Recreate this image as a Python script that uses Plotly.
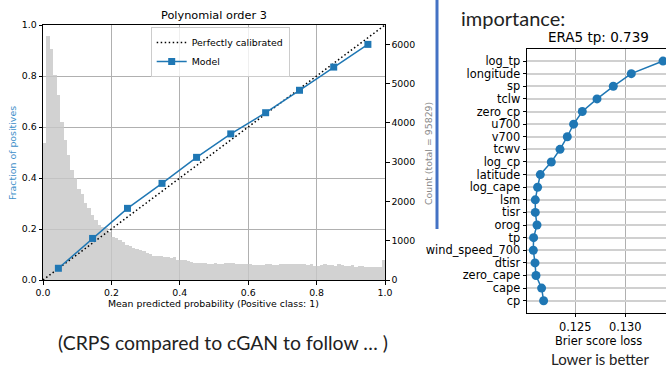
import plotly.graph_objects as go

W, H = 666, 367

# ---------------- data: calibration plot (left) ----------------
prob_pred = [0.045, 0.145, 0.247, 0.348, 0.449, 0.549, 0.651, 0.750, 0.850, 0.950]
prob_true = [0.046, 0.163, 0.281, 0.379, 0.481, 0.573, 0.656, 0.744, 0.835, 0.924]
perfect_x = [0.0, 1.0]
perfect_y = [0.0, 1.0]
bin_width = 0.01
hist_counts = [
    3500, 6200, 5880, 5220, 4710, 4020, 3560, 3180, 2800, 2590,
    2310, 2190, 1970, 1840, 1660, 1530, 1400, 1360, 1320, 1230,
    1100, 1060, 1010, 960, 900, 860, 820, 780, 770, 740,
    700, 670, 620, 600, 610, 580, 590, 550, 575, 510,
    510, 505, 485, 470, 445, 440, 425, 430, 410, 420,
    440, 415, 415, 425, 440, 430, 420, 415, 420, 400,
    410, 370, 385, 390, 390, 395, 420, 390, 385, 395,
    400, 405, 410, 405, 395, 400, 405, 370, 395, 365,
    360, 370, 395, 385, 370, 360, 400, 380, 350, 345,
    375, 340, 360, 350, 320, 335, 325, 320, 320, 500,
]
bin_centers = [bin_width * (i + 0.5) for i in range(len(hist_counts))]
frac_ticks = [0.0, 0.2, 0.4, 0.6, 0.8, 1.0]
count_ticks = [0, 1000, 2000, 3000, 4000, 5000, 6000]

# ---------------- data: feature importance (right) ----------------
features = ["log_tp", "longitude", "sp", "tclw", "zero_cp", "u700", "v700", "tcwv",
            "log_cp", "latitude", "log_cape", "lsm", "tisr", "orog", "tp",
            "wind_speed_700", "dtisr", "zero_cape", "cape", "cp"]
brier = [0.13377, 0.1306, 0.1288, 0.12717, 0.1257, 0.12483, 0.1242, 0.12347,
         0.1226, 0.1215, 0.12123, 0.1210, 0.1210, 0.12117, 0.12083,
         0.1208, 0.12097, 0.12107, 0.12163, 0.12183]
brier_ticks = [0.125, 0.130]


def px_x(p):
    return p / W


def px_y(p):
    return 1 - p / H


MPL = "DejaVu Sans"
CAL = "Lato"
fsL = 9.4
fsR = 11.4

fig = go.Figure()
fig.add_trace(go.Bar(
    x=bin_centers, y=hist_counts, width=bin_width,
    marker=dict(color="rgb(200,200,200)", line=dict(width=0)), opacity=0.8,
    xaxis="x", yaxis="y", showlegend=False, hoverinfo="skip"))
fig.add_trace(go.Scatter(
    x=perfect_x, y=perfect_y, mode="lines", name="Perfectly calibrated",
    line=dict(color="black", width=1.5, dash="1.5px,2.5px"),
    xaxis="x", yaxis="y2"))
fig.add_trace(go.Scatter(
    x=prob_pred, y=prob_true, mode="lines+markers", name="Model",
    line=dict(color="#1f77b4", width=1.5),
    marker=dict(symbol="square", size=7, color="#1f77b4"),
    xaxis="x", yaxis="y2"))
fig.add_trace(go.Scatter(
    x=brier, y=features, mode="lines+markers",
    line=dict(color="#1f77b4", width=1.5),
    marker=dict(symbol="circle", size=9, color="#1f77b4"),
    xaxis="x3", yaxis="y3", showlegend=False, cliponaxis=False))

axis_common = dict(ticks="outside", ticklen=3.5, tickwidth=0.8, tickcolor="black",
                   showline=True, linecolor="black", linewidth=1, zeroline=False,
                   automargin=False)

fig.update_layout(
    template="none",
    width=W, height=H,
    margin=dict(l=0, r=0, t=0, b=0),
    paper_bgcolor="white", plot_bgcolor="rgba(0,0,0,0)",
    bargap=0,
    xaxis=dict(domain=[px_x(43), px_x(385)], anchor="y", range=[0, 1],
               tickvals=frac_ticks, ticktext=[f"{v:.1f}" for v in frac_ticks],
               mirror=True, showgrid=True, gridcolor="#b0b0b0", gridwidth=0.8,
               tickfont=dict(family=MPL, size=fsL, color="black"), **axis_common),
    yaxis=dict(domain=[px_y(280), px_y(25)], anchor="x", side="right",
               range=[0, 6492], tickvals=count_ticks,
               ticktext=[str(v) for v in count_ticks], showgrid=False,
               tickfont=dict(family=MPL, size=fsL, color="black"), **axis_common),
    yaxis2=dict(overlaying="y", anchor="x", side="left", range=[0, 1],
                tickvals=frac_ticks, ticktext=[f"{v:.1f}" for v in frac_ticks],
                showgrid=True, gridcolor="#b0b0b0", gridwidth=0.8,
                tickfont=dict(family=MPL, size=fsL, color="black"), **axis_common),
    xaxis3=dict(domain=[px_x(527), 1], anchor="y3",
                range=[0.12017, 0.12017 + (W - 527) * 0.0001],
                tickvals=brier_ticks, ticktext=[f"{v:.3f}" for v in brier_ticks],
                mirror=True, showgrid=True, gridcolor="#b0b0b0", gridwidth=0.8,
                tickfont=dict(family=MPL, size=fsR, color="black"), **axis_common),
    yaxis3=dict(domain=[px_y(312.7), px_y(48.7)], anchor="x3", type="category",
                categoryorder="array", categoryarray=features,
                tickmode="array", tickvals=features, ticktext=features,
                range=[19.95, -0.98], showgrid=True, gridcolor="#d0d0d0", gridwidth=1.5,
                tickfont=dict(family=MPL, size=fsR, color="black"), **axis_common),
    legend=dict(x=px_x(150.7), y=px_y(27), xanchor="left", yanchor="top",
                bgcolor="rgba(255,255,255,0.8)", bordercolor="#cccccc", borderwidth=1,
                font=dict(family=MPL, size=fsL, color="black"), itemwidth=30),
    shapes=[dict(type="line", xref="paper", yref="paper",
                 x0=px_x(437), x1=px_x(437), y0=1, y1=px_y(229),
                 line=dict(color="#4472c4", width=3))],
)

ann = [
    dict(text="Polynomial order 3", x=214, y=15, size=11.3, family=MPL, color="black"),
    dict(text="Mean predicted probability (Positive class: 1)", x=214, y=303,
         size=fsL, family=MPL, color="black"),
    dict(text="Fraction of positives", x=12, y=153, size=fsL, family=MPL,
         color="#3d8fc9", angle=-90),
    dict(text="Count (total = 95829)", x=428, y=153, size=fsL, family=MPL,
         color="#8a8a8a", angle=-90),
    dict(text="ERA5 tp: 0.739", x=598, y=37, size=13.5, family=MPL, color="black"),
    dict(text="Brier score loss", x=598, y=341, size=fsR, family=MPL, color="black"),
    dict(text="Lower is better", x=600, y=359, size=15, family=CAL, color="#222222"),
    dict(text="importance:", x=513, y=18, size=20, family=CAL, color="#222222"),
    dict(text="(CRPS compared to cGAN to follow … )", x=223, y=342, size=19.4,
         family=CAL, color="#222222"),
]
for a in ann:
    fig.add_annotation(text=a["text"], xref="paper", yref="paper",
                       x=px_x(a["x"]), y=px_y(a["y"]), xanchor="center", yanchor="middle",
                       showarrow=False, textangle=a.get("angle", 0),
                       font=dict(family=a["family"], size=a["size"], color=a["color"]))

fig.write_html(
    "out.html",
    config={"displayModeBar": False},
    post_script="document.body.style.margin='0';document.body.style.overflow='hidden';",
)
